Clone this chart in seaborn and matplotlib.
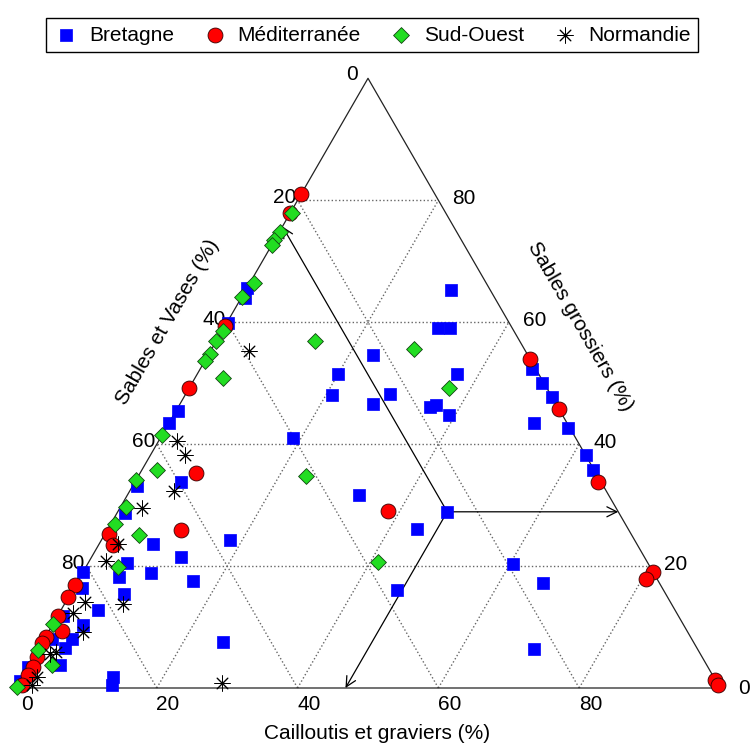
import matplotlib
matplotlib.use("Agg")
import matplotlib.pyplot as plt
import seaborn as sns
import numpy as np
import pandas as pd

# Composition granulométrique : cailloutis/graviers (%) et sables grossiers (%)
# (sables et vases = 100 - les deux autres)
bretagne_cail = [29.2, 30.4, 32.1, 23.4, 36.9, 20.0, 20.9, 29.0, 27.4, 35.8, 36.5, 39.1,
                 18.8, 32.9, 46.8, 43.9, 46.1, 60.4, 66.3, 70.4, 47.2, 49.7, 52.3, 57.1,
                 51.9, 61.8, 64.1, 0.0, 0.5, 0.2, 0.3, 0.0, 0.6, 1.1, 6.5, 7.7, 12.7,
                 5.5, 0.0, 5.5, 9.7, 16.4, 18.2, 1.2, 5.2, 4.4, 7.6, 25.6, 12.9, 13.4,
                 4.0, 1.1, 3.7, 4.4, 0.0, 0.0, 0.8]
bretagne_gros = [65.2, 59.0, 59.0, 54.6, 51.5, 51.5, 48.0, 48.2, 46.6, 46.1, 46.4, 44.8,
                 41.0, 31.6, 28.9, 26.1, 16.1, 20.3, 17.2, 6.4, 52.3, 50.0, 47.7, 42.6,
                 43.4, 38.2, 35.7, 65.6, 64.0, 59.8, 45.4, 43.4, 33.1, 28.7, 33.8, 23.6,
                 21.5, 20.5, 19.0, 18.2, 18.9, 17.5, 24.3, 16.4, 12.8, 10.3, 15.4, 7.5,
                 1.8, 0.5, 8.0, 8.0, 6.6, 3.8, 3.4, 1.1, 11.8]

medit_cail = [0.0, 0.0, 0.0, 0.0, 8.0, 10.5, 0.6, 2.1, 0.0, 0.0, 0.0, 1.9, 0.0, 0.0,
              0.4, 0.7, 0.6, 0.6, 46.1, 54.3, 65.8, 81.0, 80.5, 98.7, 99.5, 38.3]
medit_gros = [81.1, 77.9, 59.3, 49.2, 35.2, 25.9, 25.2, 23.4, 16.9, 14.9, 11.8, 9.3, 8.4,
              7.4, 5.1, 3.4, 2.1, 0.5, 53.9, 45.7, 33.8, 19.0, 17.9, 1.3, 0.5, 29.0]

sudouest_cail = [0.3, 0.1, 0.0, 0.0, 0.6, 0.0, 0.2, 0.0, 0.2, 0.0, 4.0, 14.0, 28.7, 36.9,
                 23.8, 41.1, 0.0, 2.2, 0.0, 0.8, 4.9, 0.6, 4.6, 0.0, 0.0, 3.2, 0.0]
sudouest_gros = [77.9, 74.8, 73.4, 72.6, 66.4, 64.1, 58.5, 56.9, 54.8, 53.6, 50.8, 56.9,
                 55.6, 49.2, 34.8, 20.7, 41.5, 35.7, 34.1, 29.7, 25.1, 26.9, 19.8, 10.5,
                 6.2, 3.8, 0.2]

normandie_cail = [5.5, 2.6, 4.9, 6.3, 3.1, 2.7, 2.4, 2.8, 2.0, 4.9, 8.3, 2.0, 2.7, 2.1,
                  2.0, 28.9]
normandie_gros = [55.2, 40.5, 38.2, 32.3, 29.5, 23.6, 20.8, 14.1, 12.3, 9.2, 13.8, 5.6,
                  5.9, 1.8, 0.5, 0.8]

regions = ['Bretagne', 'Méditerranée', 'Sud-Ouest', 'Normandie']
ticks = [20, 40, 60, 80]

H = np.sqrt(3) / 2


def to_xy(cail, gros):
    cail = np.asarray(cail, float) / 100
    gros = np.asarray(gros, float) / 100
    return cail + gros / 2, gros * H


frames = []
for name, c, g in [('Bretagne', bretagne_cail, bretagne_gros),
                   ('Méditerranée', medit_cail, medit_gros),
                   ('Sud-Ouest', sudouest_cail, sudouest_gros),
                   ('Normandie', normandie_cail, normandie_gros)]:
    x, y = to_xy(c, g)
    frames.append(pd.DataFrame({'x': x, 'y': y, 'region': name}))
df = pd.concat(frames, ignore_index=True)

sns.set_style('white')
plt.rcParams['font.family'] = ['Liberation Sans', 'DejaVu Sans']
plt.rcParams['text.color'] = 'black'

fig = plt.figure(figsize=(7.54, 7.46), dpi=100)
ax = fig.add_axes([0, 0, 1, 1])
ax.set_xlim(-16 / 704, 738 / 704)
ax.set_ylim((688 - 746) / 704, 688 / 704)
ax.axis('off')

# grille pointillée
gc = '#666666'
for t in ticks:
    f = t / 100
    ax.plot([f / 2, 1 - f / 2], [f * H, f * H], ls=':', color=gc, lw=1.0, zorder=1)
    ax.plot([f, f + (1 - f) / 2], [0, (1 - f) * H], ls=':', color=gc, lw=1.0, zorder=1)
    ax.plot([f, f / 2], [0, f * H], ls=':', color=gc, lw=1.0, zorder=1)

# triangle
ax.plot([0, 1, 0.5, 0], [0, 0, H, 0], color='#222222', lw=0.9, zorder=2)

# étiquettes des graduations
fs = 15
for t in [0] + ticks:
    ax.text(t / 100 + 0.016, -0.024, str(t), ha='center', va='center', fontsize=fs)
for t in ticks:
    f = t / 100
    ax.text(f / 2 - 0.002, f * H + 0.004, str(100 - t), ha='right', va='center', fontsize=fs)
    ax.text(1 - f / 2 + 0.02, f * H + 0.002, str(t), ha='left', va='center', fontsize=fs)
ax.text(0.485, H + 0.006, '0', ha='right', va='center', fontsize=fs)
ax.text(1.026, 0.0, '0', ha='left', va='center', fontsize=fs)

ax.text(0.513, -0.064, 'Cailloutis et graviers (%)', ha='center', va='center', fontsize=fs)
ax.text(0.216, 0.520, 'Sables et Vases (%)', ha='center', va='center', rotation=60, fontsize=fs)
ax.text(0.801, 0.514, 'Sables grossiers (%)', ha='center', va='center', rotation=-60, fontsize=fs)

# points
styles = {
    'Bretagne': dict(marker='s', color='#0000ff', s=85, edgecolor='#0000ff', linewidth=0.5),
    'Méditerranée': dict(marker='o', color='#ff0000', s=115, edgecolor='#330000', linewidth=0.6),
    'Sud-Ouest': dict(marker='D', color='#22dd22', s=65, edgecolor='#114411', linewidth=0.6),
    'Normandie': dict(marker=(8, 2, 0), color='black', s=120, linewidth=0.7),
}
for name in regions:
    sns.scatterplot(data=df[df.region == name], x='x', y='y', ax=ax, label=name,
                    zorder=3, **styles[name])

# flèches de lecture pour un point exemple
c0, g0 = bretagne_cail[14], bretagne_gros[14]
s0 = 100 - c0 - g0
p0 = to_xy(c0, g0)
targets = [to_xy(100 - g0, g0), to_xy(c0, 0), to_xy(0, 100 - s0)]
for tgt in targets:
    ax.annotate('', xy=(float(tgt[0]), float(tgt[1])), xytext=(float(p0[0]), float(p0[1])),
                arrowprops=dict(arrowstyle='->', color='black', lw=0.9,
                                mutation_scale=18, shrinkA=0, shrinkB=0), zorder=2)

ax.legend(loc='upper center', bbox_to_anchor=(372 / 754, 1 - 8 / 746),
          bbox_transform=fig.transFigure, ncol=4, frameon=True, fancybox=False,
          edgecolor='black', fontsize=fs, handletextpad=0.5, columnspacing=1.35,
          borderpad=0.35, handlelength=1.2, framealpha=1)

fig.savefig('out.png', dpi=100, facecolor='white')
